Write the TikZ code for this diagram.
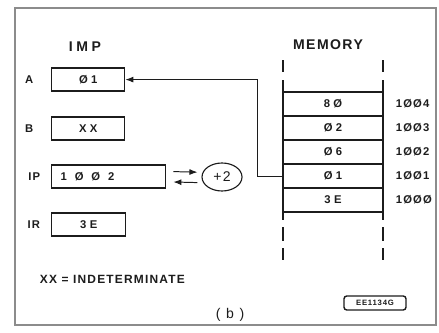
\documentclass[tikz,border=0pt]{standalone}
\usepackage{fontspec}
\setmainfont{Liberation Sans}[LetterSpace=10]
\usetikzlibrary{arrows.meta,positioning,shapes.geometric}
\definecolor{DiagInk}{HTML}{1C1C1C}
\definecolor{DiagFrame}{HTML}{8C8C8C}

\begin{document}
\begin{tikzpicture}[every node/.style={text=DiagInk, font=\fontsize{8}{9.5}\selectfont\bfseries},
    regbox/.style={draw=DiagInk, line width=1pt, minimum height=0.575cm, anchor=west, inner sep=2pt},
    wide/.style={font=\fontsize{8}{9.5}\selectfont\bfseries\addfontfeature{LetterSpace=30}},
    cell/.style={draw=DiagInk, line width=1pt, minimum width=2.5cm, minimum height=0.6cm, outer sep=0pt, inner sep=0pt, font=\fontsize{8}{9.5}\selectfont\bfseries\addfontfeature{LetterSpace=30}},
    rail/.style={DiagInk, line width=1.3pt},
    flow/.style={-{Latex[length=2mm, width=1.5mm]}, DiagInk, line width=0.7pt}]
    \useasboundingbox (0,0) rectangle (10.975,-8.325);
    \draw[DiagFrame, line width=0.8pt] (0.375,-0.2) rectangle (10.9,-8.125);

    % titles
    \node[font=\fontsize{10}{12}\selectfont\bfseries\addfontfeature{LetterSpace=25}] (imp) at (2.125,-1.175) {IMP};
    \node[font=\fontsize{10}{12}\selectfont\bfseries] (memory) at (8.2,-1.125) {MEMORY};

    % registers
    \node[regbox, wide, minimum width=1.825cm] (regA) at (1.275,-1.99) {Ø1};
    \node[regbox, wide, minimum width=1.825cm] (regB) at (1.275,-3.21) {XX};
    \node[regbox, font=\fontsize{8}{9.5}\selectfont\bfseries\addfontfeature{LetterSpace=70}, minimum width=2.85cm, text width=2.6cm, align=left] (regIP) at (1.275,-4.41) {\hspace{0.1cm}1ØØ2};
    \node[regbox, wide, minimum width=1.85cm] (regIR) at (1.275,-5.61) {3E};
    \node[left=0.32cm of regA] (labA) {A};
    \node[left=0.32cm of regB] (labB) {B};
    \node[left=0.15cm of regIP] (labIP) {IP};
    \node[left=0.15cm of regIR] (labIR) {IR};

    \node[draw=DiagInk, ellipse, line width=0.8pt, minimum width=1cm, minimum height=0.7cm, inner sep=0pt, font=\fontsize{10}{12}\selectfont] (inc) at (5.55,-4.425) {+2};

    % memory cells
    \node[cell] (m4) at (8.325,-2.6) {8Ø};
    \node[cell, below=0pt of m4] (m3) {Ø2};
    \node[cell, below=0pt of m3] (m2) {Ø6};
    \node[cell, below=0pt of m2] (m1) {Ø1};
    \node[cell, below=0pt of m1] (m0) {3E};
    \node[right=0.2cm of m4] (ad4) {1ØØ4};
    \node[right=0.2cm of m3] (ad3) {1ØØ3};
    \node[right=0.2cm of m2] (ad2) {1ØØ2};
    \node[right=0.2cm of m1] (ad1) {1ØØ1};
    \node[right=0.2cm of m0] (ad0) {1ØØØ};

    \draw[rail] (m4.north west) -- ++(0,0.3);
    \draw[rail] ([yshift=0.5cm]m4.north west) -- ++(0,0.3);
    \draw[rail] (m4.north east) -- ++(0,0.3);
    \draw[rail] ([yshift=0.5cm]m4.north east) -- ++(0,0.3);
    \draw[rail] (m0.south west) -- ++(0,-0.2);
    \draw[rail] ([yshift=-0.375cm]m0.south west) -- ++(0,-0.35);
    \draw[rail] ([yshift=-0.9cm]m0.south west) -- ++(0,-0.3);
    \draw[rail] (m0.south east) -- ++(0,-0.2);
    \draw[rail] ([yshift=-0.375cm]m0.south east) -- ++(0,-0.35);
    \draw[rail] ([yshift=-0.9cm]m0.south east) -- ++(0,-0.3);

    % data paths
    \draw[flow] (m1.west) -- ++(-0.65,0) |- (regA.east);
    \draw[flow] ([shift={(0.175,0.12)}]regIP.east) -- ([shift={(-0.1,0.12)}]inc.west);
    \draw[flow] ([shift={(-0.1,-0.14)}]inc.west) -- ([shift={(0.175,-0.14)}]regIP.east);

    \node[anchor=west, font=\fontsize{8.5}{10}\selectfont\bfseries] (note) at (0.875,-6.975) {XX = INDETERMINATE};
    \node[font=\fontsize{10}{12}\selectfont\addfontfeature{LetterSpace=40}] (caption) at (5.75,-7.875) {(b)};
    \node[draw=DiagInk, rounded corners=2pt, line width=1pt, minimum width=1.55cm, minimum height=0.35cm, inner sep=1pt, font=\fontsize{5.5}{6}\selectfont\bfseries] (tag) at (9.375,-7.575) {EE1134G};
\end{tikzpicture}
\end{document}
